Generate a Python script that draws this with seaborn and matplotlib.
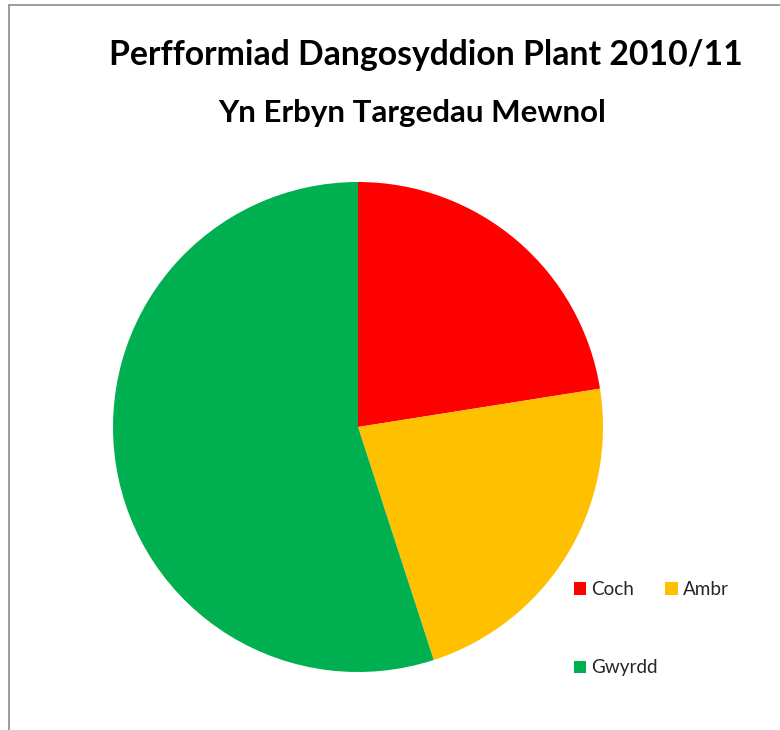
import matplotlib
matplotlib.use("Agg")
import matplotlib.pyplot as plt
import seaborn as sns
from matplotlib.lines import Line2D
from matplotlib.patches import Patch

categories = ["Coch", "Ambr", "Gwyrdd"]
values = [9, 9, 22]
colors = ["#FF0000", "#FFC000", "#00B050"]
title = "Perfformiad Dangosyddion Plant 2010/11"
subtitle = "Yn Erbyn Targedau Mewnol"

sns.set_theme(style="white")
plt.rcParams['font.family'] = ['Lato', 'DejaVu Sans']

W, H = 780, 730
fig = plt.figure(figsize=(W / 100, H / 100), dpi=100)
fig.patch.set_facecolor("white")

cx, cy, r = 358, 427, 245
ax = fig.add_axes([(cx - r) / W, (H - cy - r) / H, 2 * r / W, 2 * r / H])
ax.pie(values, colors=colors, startangle=90, counterclock=False,
       wedgeprops=dict(linewidth=0), radius=1)
ax.set_xlim(-1, 1)
ax.set_ylim(-1, 1)
ax.set_aspect("equal")
ax.axis("off")

fig.text(426 / W, 1 - 55 / H, title, ha="center", va="center",
         fontsize=24.3, fontweight="bold", color="black")
fig.text(412 / W, 1 - 113 / H, subtitle, ha="center", va="center",
         fontsize=22.5, fontweight="bold", color="black")

# border lines (top and left)
fig.add_artist(Line2D([9 / W, 1], [1 - 5 / H, 1 - 5 / H], transform=fig.transFigure,
                      color="#8c8c8c", linewidth=1.2))
fig.add_artist(Line2D([9 / W, 9 / W], [0, 1 - 5 / H], transform=fig.transFigure,
                      color="#8c8c8c", linewidth=1.2))

handles = [Patch(facecolor=c, edgecolor="none") for c in colors]
order = [0, 2, 1]
leg = fig.legend([handles[i] for i in order], [categories[i] for i in order],
                 ncol=2, loc="upper left", bbox_to_anchor=(574 / W, 1 - 581 / H),
                 frameon=False, fontsize=13.6, handlelength=0.64, handleheight=0.64,
                 handletextpad=0.28, columnspacing=0.4, labelspacing=3.25,
                 borderaxespad=0, borderpad=0)

fig.savefig("out.png", dpi=100, facecolor="white")
